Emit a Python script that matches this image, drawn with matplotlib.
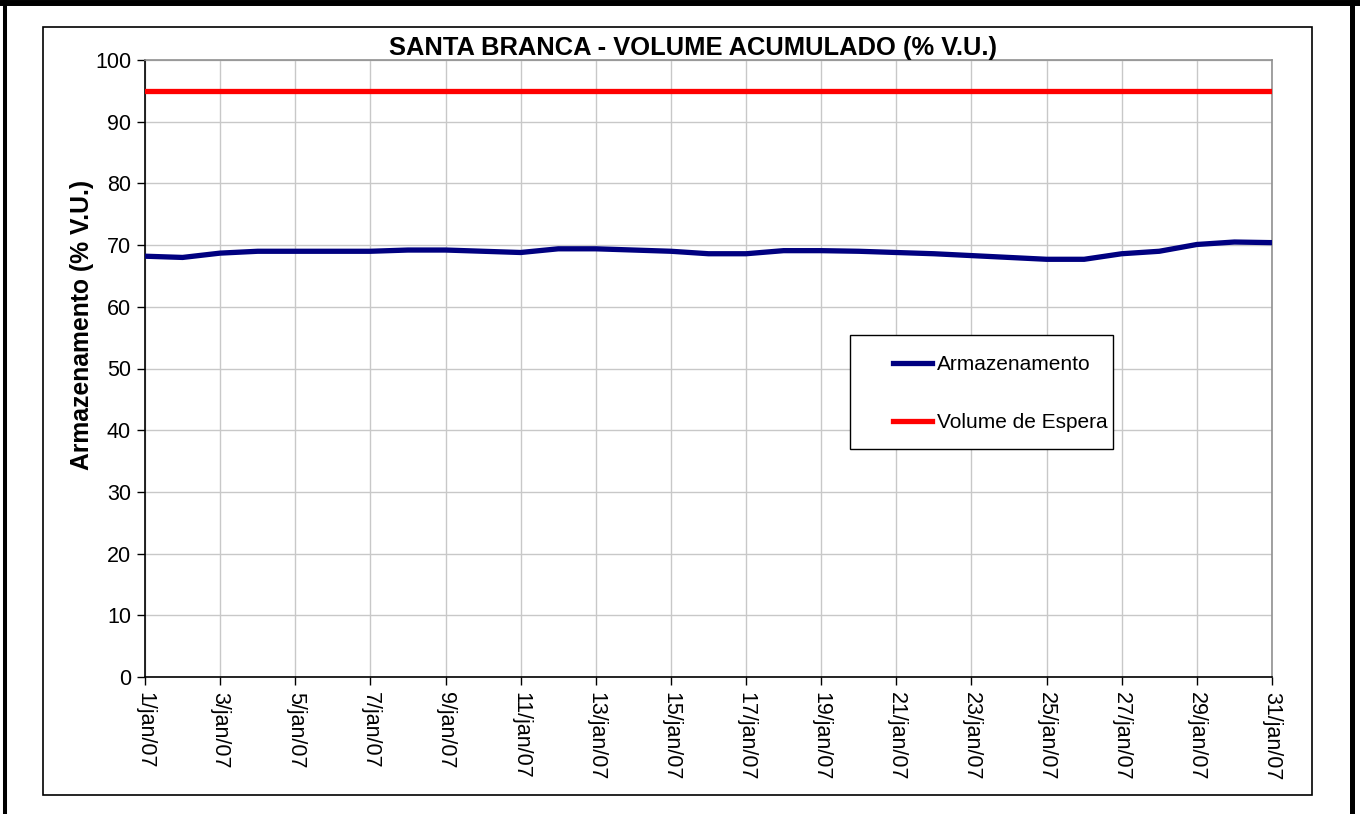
import matplotlib
matplotlib.use("Agg")
import matplotlib.pyplot as plt
from matplotlib.patches import Rectangle
from matplotlib.lines import Line2D

plt.rcParams['font.family'] = ['Liberation Sans', 'DejaVu Sans']

days = list(range(1, 32))
tick_days = list(range(1, 32, 2))
tick_labels = [f"{d}/jan/07" for d in tick_days]
armazenamento = [68.2, 68.0, 68.7, 69.0, 69.0, 69.0, 69.0, 69.2, 69.2, 69.0,
                 68.8, 69.4, 69.4, 69.2, 69.0, 68.6, 68.6, 69.1, 69.1, 69.0,
                 68.8, 68.6, 68.3, 68.0, 67.7, 67.7, 68.6, 69.0, 70.1, 70.5, 70.4]
volume_espera = [95.0] * 31
series_names = ['Armazenamento', 'Volume de Espera']
series_colors = ['#000080', '#ff0000']

W, H = 1360, 814
fig = plt.figure(figsize=(W / 100, H / 100), dpi=100)
fig.patch.set_facecolor('white')

def fx(px):
    return px / W

def fy(py):
    return 1 - py / H

ax = fig.add_axes([fx(145), fy(677), (1272 - 145) / W, (677 - 60) / H])
ax.plot(days, armazenamento, color=series_colors[0], lw=3.8, zorder=3, solid_joinstyle='round')
ax.plot(days, volume_espera, color=series_colors[1], lw=3.8, zorder=3)

ax.set_xlim(1, 31)
ax.set_ylim(0, 100)
ax.set_yticks(range(0, 101, 10))
ax.set_xticks(tick_days)
ax.set_xticklabels(tick_labels, rotation=-90, ha='center', va='top')
ax.tick_params(axis='both', direction='out', length=6, width=1, colors='black', labelsize=15.5)
ax.tick_params(axis='x', pad=5)
ax.tick_params(axis='y', pad=4)
ax.grid(True, color='#c8c8c8', lw=1)
ax.set_axisbelow(True)
for s in ['top', 'right']:
    ax.spines[s].set_color('#909090')
    ax.spines[s].set_linewidth(1.2)
for s in ['left', 'bottom']:
    ax.spines[s].set_color('black')
    ax.spines[s].set_linewidth(1.2)

fig.text(fx(82), fy(325), 'Armazenamento (% V.U.)', fontsize=17.8, fontweight='bold',
         rotation=90, ha='center', va='center')
fig.text(fx(693), fy(48), 'SANTA BRANCA - VOLUME ACUMULADO (% V.U.)', fontsize=18.4,
         fontweight='bold', ha='center', va='center')

# legend (drawn in figure pixel coordinates)
fig.patches.append(Rectangle((fx(850), fy(449)), (1113 - 850) / W, (449 - 335) / H,
                             transform=fig.transFigure, facecolor='white', edgecolor='black',
                             lw=1.0, zorder=5))
for i, (name, col) in enumerate(zip(series_names, series_colors)):
    yc = 363 + i * 58
    fig.add_artist(Line2D([fx(893), fx(932)], [fy(yc), fy(yc)], transform=fig.transFigure,
                          color=col, lw=3.8, zorder=6))
    fig.text(fx(937), fy(yc + 1), name, fontsize=15, va='center', ha='left', zorder=6)

# inner chart frame
fig.patches.append(Rectangle((fx(43), fy(795)), (1312 - 43) / W, (795 - 27) / H,
                             transform=fig.transFigure, fill=False, edgecolor='black', lw=1.2))
# outer thick frame (left, top, right)
fig.add_artist(Line2D([fx(4.7), fx(4.7)], [0, 1], transform=fig.transFigure, color='black', lw=2.9))
fig.add_artist(Line2D([0, 1], [fy(3), fy(3)], transform=fig.transFigure, color='black', lw=4.3))
fig.add_artist(Line2D([fx(1351.5), fx(1351.5)], [0, 1], transform=fig.transFigure, color='black', lw=3.6))

fig.savefig('out.png', dpi=100)
